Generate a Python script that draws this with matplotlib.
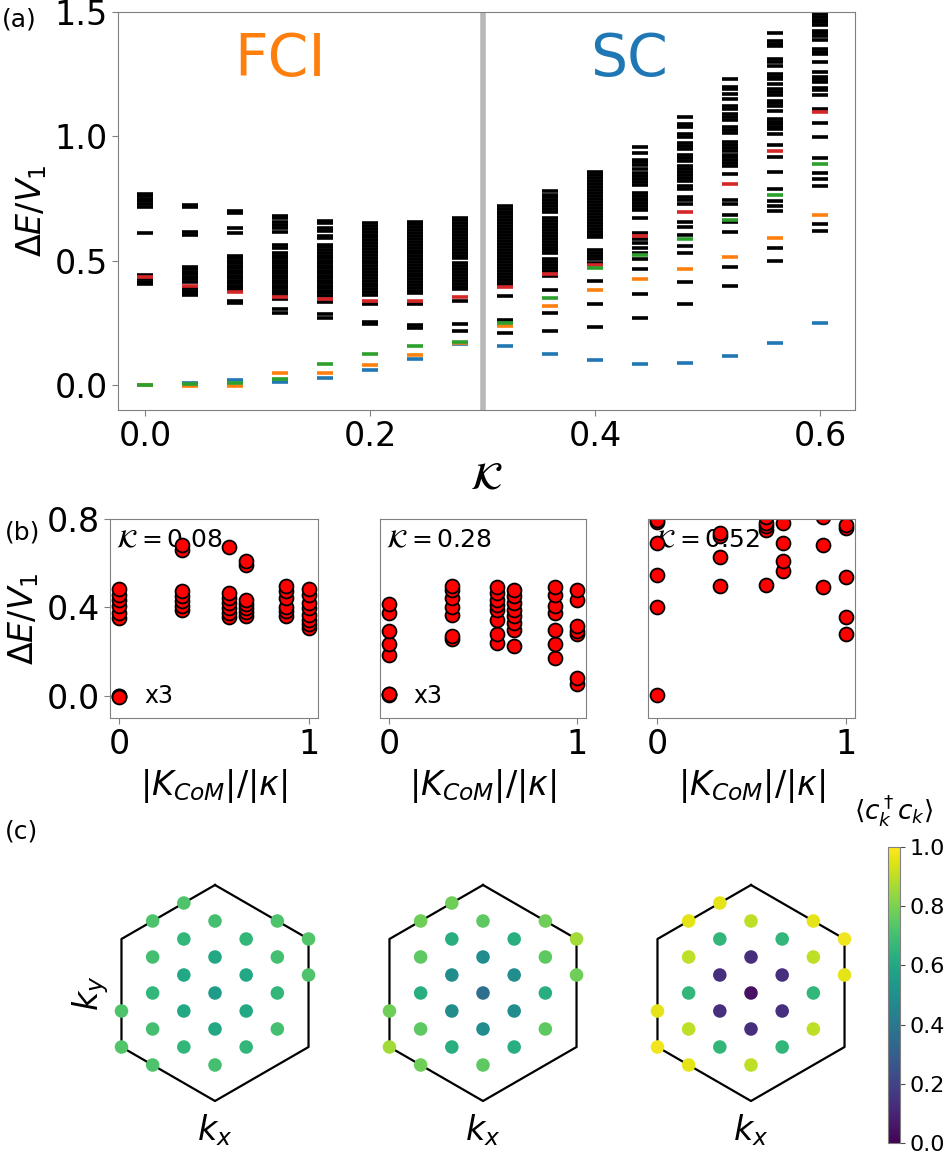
import numpy as np
import matplotlib
matplotlib.use("Agg")
import matplotlib.pyplot as plt
from matplotlib.colors import Normalize

# ---------------- panel (a): spectrum vs kappa ----------------
kappa = [0.0, 0.04, 0.08, 0.12, 0.16, 0.20, 0.24, 0.28,
         0.32, 0.36, 0.40, 0.44, 0.48, 0.52, 0.56, 0.60]

black_levels = [
    [0.77, 0.76, 0.75, 0.74, 0.73, 0.715, 0.61, 0.444, 0.425, 0.415, 0.405],
    [0.725, 0.715, 0.615, 0.605, 0.475, 0.465, 0.455, 0.445, 0.435, 0.425, 0.415,
     0.39, 0.38, 0.37, 0.362],
    [0.70, 0.69, 0.63, 0.61, 0.52, 0.51, 0.50, 0.49, 0.48, 0.47, 0.46, 0.45, 0.44,
     0.43, 0.42, 0.41, 0.40, 0.39, 0.382, 0.34, 0.33],
    [0.68, 0.67, 0.655, 0.645, 0.63, 0.615, 0.565, 0.55, 0.53, 0.52, 0.51, 0.50,
     0.49, 0.48, 0.47, 0.46, 0.45, 0.44, 0.43, 0.42, 0.41, 0.40, 0.39, 0.38, 0.37,
     0.36, 0.345, 0.305, 0.29],
    [0.66, 0.65, 0.63, 0.62, 0.60, 0.59, 0.565, 0.555, 0.545, 0.532, 0.52, 0.51,
     0.50, 0.49, 0.48, 0.47, 0.46, 0.45, 0.44, 0.43, 0.42, 0.41, 0.40, 0.39, 0.38,
     0.37, 0.36, 0.336, 0.285, 0.27],
    [0.650, 0.641, 0.628, 0.617, 0.605, 0.594, 0.582, 0.570, 0.559, 0.547, 0.536,
     0.524, 0.512, 0.501, 0.490, 0.478, 0.466, 0.455, 0.443, 0.431, 0.420, 0.408,
     0.397, 0.385, 0.373, 0.362, 0.327, 0.255, 0.247],
    [0.657, 0.646, 0.634, 0.623, 0.611, 0.600, 0.588, 0.576, 0.565, 0.553, 0.541,
     0.530, 0.518, 0.506, 0.495, 0.483, 0.472, 0.460, 0.448, 0.437, 0.425, 0.414,
     0.402, 0.391, 0.380, 0.372, 0.328, 0.240, 0.228],
    [0.673, 0.662, 0.650, 0.638, 0.626, 0.614, 0.603, 0.591, 0.580, 0.568, 0.556,
     0.544, 0.532, 0.520, 0.510, 0.490, 0.478, 0.466, 0.455, 0.443, 0.431, 0.420,
     0.408, 0.396, 0.388, 0.340, 0.246, 0.216],
    [0.720, 0.709, 0.697, 0.686, 0.674, 0.662, 0.650, 0.638, 0.626, 0.614, 0.602,
     0.590, 0.578, 0.566, 0.554, 0.542, 0.530, 0.518, 0.506, 0.494, 0.482, 0.470,
     0.458, 0.446, 0.434, 0.422, 0.410, 0.401, 0.359, 0.262, 0.211],
    [0.780, 0.766, 0.755, 0.743, 0.731, 0.719, 0.707, 0.695, 0.673, 0.661, 0.649,
     0.637, 0.625, 0.613, 0.601, 0.589, 0.577, 0.565, 0.553, 0.544, 0.533, 0.508,
     0.496, 0.484, 0.472, 0.460, 0.452, 0.437, 0.383, 0.290, 0.216],
    [0.855, 0.843, 0.831, 0.819, 0.807, 0.795, 0.783, 0.771, 0.759, 0.747, 0.735,
     0.723, 0.711, 0.699, 0.687, 0.675, 0.663, 0.651, 0.639, 0.627, 0.615, 0.603,
     0.594, 0.544, 0.532, 0.520, 0.508, 0.492, 0.417, 0.325, 0.235],
    [0.958, 0.934, 0.907, 0.895, 0.883, 0.870, 0.851, 0.839, 0.827, 0.815, 0.803,
     0.774, 0.762, 0.750, 0.743, 0.734, 0.722, 0.710, 0.703, 0.672, 0.611, 0.587,
     0.571, 0.550, 0.531, 0.507, 0.465, 0.367, 0.271],
    [1.079, 1.048, 1.038, 1.008, 0.998, 0.972, 0.960, 0.950, 0.926, 0.914, 0.903,
     0.880, 0.870, 0.858, 0.845, 0.833, 0.820, 0.800, 0.788, 0.757, 0.745, 0.730,
     0.657, 0.634, 0.602, 0.558, 0.530, 0.414, 0.325],
    [1.232, 1.200, 1.190, 1.169, 1.149, 1.122, 1.110, 1.089, 1.077, 1.065, 1.039,
     1.027, 1.012, 0.978, 0.966, 0.952, 0.940, 0.927, 0.917, 0.907, 0.893, 0.880,
     0.847, 0.746, 0.727, 0.685, 0.656, 0.615, 0.474, 0.400],
    [1.414, 1.382, 1.372, 1.364, 1.310, 1.300, 1.284, 1.250, 1.240, 1.230, 1.210,
     1.190, 1.178, 1.167, 1.143, 1.133, 1.123, 1.103, 1.069, 1.058, 1.048, 1.038,
     1.028, 1.008, 0.965, 0.918, 0.856, 0.789, 0.740, 0.720, 0.700, 0.551, 0.498],
    [1.492, 1.480, 1.469, 1.458, 1.448, 1.425, 1.415, 1.405, 1.387, 1.351, 1.341,
     1.331, 1.297, 1.260, 1.240, 1.230, 1.220, 1.195, 1.185, 1.167, 1.111, 1.055,
     0.998, 0.914, 0.851, 0.827, 0.802, 0.649, 0.620],
]
red_levels = [0.435, 0.40, 0.375, 0.356, 0.347, 0.34, 0.34, 0.356,
              0.394, 0.446, 0.481, 0.60, 0.696, 0.81, 0.941, 1.098]
blue_levels = [0.0, 0.008, 0.02, 0.012, 0.03, 0.06, 0.105, 0.167,
               0.156, 0.126, 0.099, 0.086, 0.09, 0.118, 0.171, 0.249]
orange_levels = [0.0, -0.003, -0.003, 0.048, 0.048, 0.08, 0.121, 0.17,
                 0.239, 0.317, 0.384, 0.427, 0.466, 0.517, 0.59, 0.685]
green_levels = [0.0, 0.003, 0.007, 0.024, 0.085, 0.125, 0.158, 0.173,
                0.251, 0.351, 0.47, 0.525, 0.589, 0.665, 0.766, 0.89]

# ---------------- panel (b): spectra vs |K_CoM| ----------------
kcom_pos = [0.0, 1 / 3, 0.577, 0.667, 0.882, 1.0]
b_kappas = ["0.08", "0.28", "0.52"]

spec_008 = [
    [0.0, 0.0, -0.005, 0.353, 0.375, 0.405, 0.435, 0.458, 0.483],
    [0.39, 0.408, 0.428, 0.45, 0.473, 0.66, 0.683],
    [0.357, 0.375, 0.398, 0.42, 0.443, 0.465, 0.675],
    [0.36, 0.378, 0.398, 0.417, 0.435, 0.593, 0.608],
    [0.36, 0.383, 0.40, 0.443, 0.473, 0.498],
    [0.308, 0.327, 0.345, 0.368, 0.398, 0.42, 0.458, 0.483],
]
spec_028 = [
    [0.005, 0.007, 0.008, 0.183, 0.233, 0.293, 0.375, 0.417],
    [0.258, 0.273, 0.368, 0.402, 0.443, 0.477, 0.495],
    [0.237, 0.278, 0.345, 0.39, 0.413, 0.435, 0.465, 0.492],
    [0.225, 0.30, 0.33, 0.36, 0.39, 0.42, 0.45, 0.48],
    [0.173, 0.233, 0.30, 0.375, 0.408, 0.458, 0.492],
    [0.053, 0.083, 0.278, 0.293, 0.318, 0.435, 0.477],
]
spec_052 = [
    [0.003, 0.402, 0.548, 0.69, 0.788, 0.795],
    [0.495, 0.627, 0.725, 0.735],
    [0.503, 0.75, 0.768, 0.78, 0.81],
    [0.563, 0.61, 0.69, 0.783],
    [0.492, 0.683, 0.81],
    [0.282, 0.357, 0.537, 0.758, 0.773],
]

# ---------------- panel (c): occupations on the k-point cluster ----------------
# k-points as integer indices on a triangular lattice (x = c*sqrt3/2, y = r/2)
kc = [-1, -2, 0, 2, -1, 1, 3, -2, 0, 2, -1, 1, 3, -2, 0, 2,
      -3, -1, 1, -2, 0, 2, -3, -1, 1, -2, 0]
kr = [5, 4, 4, 4, 3, 3, 3, 2, 2, 2, 1, 1, 1, 0, 0, 0,
      -1, -1, -1, -2, -2, -2, -3, -3, -3, -4, -4]
nk_008 = [0.72, 0.72, 0.70, 0.72, 0.66, 0.66, 0.73, 0.70, 0.60, 0.70, 0.60, 0.60, 0.72,
          0.66, 0.55, 0.66, 0.72, 0.60, 0.60, 0.70, 0.60, 0.70, 0.73, 0.66, 0.66,
          0.72, 0.70]
nk_028 = [0.78, 0.78, 0.75, 0.78, 0.63, 0.63, 0.86, 0.75, 0.49, 0.75, 0.49, 0.49, 0.78,
          0.63, 0.36, 0.63, 0.78, 0.49, 0.49, 0.75, 0.49, 0.75, 0.86, 0.63, 0.63,
          0.78, 0.75]
nk_052 = [0.96, 0.96, 0.90, 0.96, 0.66, 0.66, 0.98, 0.90, 0.14, 0.90, 0.14, 0.14, 0.96,
          0.66, 0.04, 0.66, 0.96, 0.14, 0.14, 0.90, 0.14, 0.90, 0.98, 0.66, 0.66,
          0.96, 0.90]
hex_radius = 3.0

W, H = 947, 1155
fig = plt.figure(figsize=(W / 100, H / 100), dpi=100)


def px_axes(x0, y0, x1, y1):
    # axes from pixel box (top-left origin)
    return fig.add_axes([x0 / W, 1 - y1 / H, (x1 - x0) / W, (y1 - y0) / H])


def grey_frame(ax):
    for s in ax.spines.values():
        s.set_color("0.5")
    ax.tick_params(color="0.5", labelsize=24, length=4)


# (a)
ax = px_axes(118, 12, 855, 410)
for k, lv in zip(kappa, black_levels):
    ax.plot(np.full(len(lv), k), lv, ls="none", marker="_", ms=11, mew=2.6, color="k")
for lv, c in [(red_levels, "tab:red"), (blue_levels, "tab:blue"),
              (orange_levels, "tab:orange"), (green_levels, "tab:green")]:
    ax.plot(kappa, lv, ls="none", marker="_", ms=11, mew=2.6, color=c)
ax.axvline(0.3, color="0.72", lw=4)
ax.set_xlim(-0.024, 0.631)
ax.set_ylim(-0.1, 1.5)
ax.set_xticks([0.0, 0.2, 0.4, 0.6])
ax.set_yticks([0.0, 0.5, 1.0, 1.5])
ax.set_xlabel(r"$\mathcal{K}$", fontsize=28)
ax.set_ylabel(r"$\Delta E/V_1$", fontsize=24)
ax.text(0.12, 1.31, "FCI", color="tab:orange", fontsize=42, ha="center", va="center")
ax.text(0.43, 1.31, "SC", color="tab:blue", fontsize=42, ha="center", va="center")
grey_frame(ax)

# (b)
boxes = [(110, 318), (380, 586), (648, 855)]
for i, (spec, kap) in enumerate(zip([spec_008, spec_028, spec_052], b_kappas)):
    axb = px_axes(boxes[i][0], 519, boxes[i][1], 718)
    for xk, ev in zip(kcom_pos, spec):
        axb.scatter(np.full(len(ev), xk), ev, s=100, color="red", edgecolor="k",
                    linewidth=1.3, zorder=2)
    axb.set_xlim(-0.05, 1.05)
    axb.set_ylim(-0.1, 0.8)
    axb.set_xticks([0, 1])
    axb.set_xlabel(r"$|K_{CoM}|/|\kappa|$", fontsize=24)
    axb.text(0.03, 0.955, r"$\mathcal{K}=$" + kap, transform=axb.transAxes,
             fontsize=18, va="top", ha="left", zorder=0)
    if i < 2:
        axb.text(0.13, 0.0, "x3", fontsize=17, va="center", ha="left")
    if i == 0:
        axb.set_yticks([0.0, 0.4, 0.8])
        axb.set_ylabel(r"$\Delta E/V_1$", fontsize=24)
    else:
        axb.set_yticks([])
    grey_frame(axb)

# (c)
norm = Normalize(0, 1)
kx = np.array(kc) * np.sqrt(3) / 2
ky = np.array(kr) / 2
ang = np.deg2rad(90 + 60 * np.arange(7))
hx, hy = hex_radius * np.cos(ang), hex_radius * np.sin(ang)
half = 120 / 36
for i, (cx, nk) in enumerate(zip([215, 483, 751], [nk_008, nk_028, nk_052])):
    axc = px_axes(cx - 120, 993 - 120, cx + 120, 993 + 120)
    axc.plot(hx, hy, color="k", lw=1.6, zorder=1)
    sc = axc.scatter(kx, ky, c=nk, cmap="viridis", norm=norm, s=95,
                     edgecolor="none", zorder=2)
    axc.set_xlim(-half, half)
    axc.set_ylim(-half, half)
    axc.axis("off")
    axc.text(0, -3.8, r"$k_x$", fontsize=24, ha="center", va="center")
    if i == 0:
        axc.text(-3.45, 0, r"$k_y$", fontsize=24, ha="center", va="center", rotation=90)

cax = px_axes(888, 847, 900, 1143)
cb = fig.colorbar(sc, cax=cax)
cb.set_ticks([0.0, 0.2, 0.4, 0.6, 0.8, 1.0])
cb.ax.tick_params(labelsize=16, color="0.3")
cb.outline.set_edgecolor("0.5")
cax.set_title(r"$\langle c_k^\dagger c_k\rangle$", fontsize=19, pad=20)

fig.text(2 / W, 1 - 20 / H, "(a)", fontsize=18, va="center", ha="left")
fig.text(5 / W, 1 - 532 / H, "(b)", fontsize=18, va="center", ha="left")
fig.text(5 / W, 1 - 832 / H, "(c)", fontsize=18, va="center", ha="left")

fig.savefig("out.png", dpi=100)
